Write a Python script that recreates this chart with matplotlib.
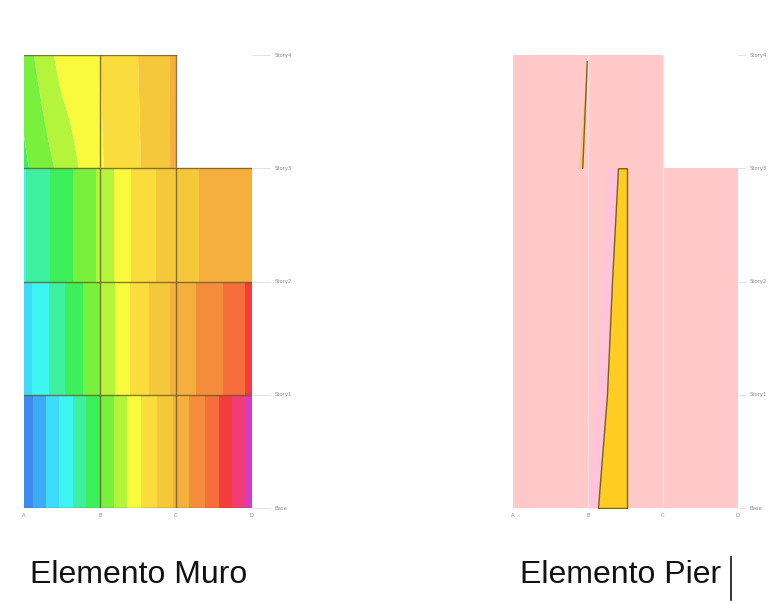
import numpy as np
import matplotlib
matplotlib.use("Agg")
import matplotlib.pyplot as plt
from matplotlib.colors import ListedColormap, BoundaryNorm
from matplotlib.lines import Line2D

# ---------------- data ----------------
x_nodes = [0.0, 0.5, 1.0, 1.5, 2.0, 2.5, 3.0]
x_nodes_top = [0.0, 0.5, 1.0, 1.5, 2.0]
story_labels = ["Base", "Story1", "Story2", "Story3", "Story4"]
grid_labels = ["A", "B", "C", "D"]

# contour values (level index) along the bottom and top edge of each story
muro_s1_bot = [0.3, 3.2, 6.0, 8.8, 11.2, 13.6, 16.5]
muro_s1_top = [0.3, 3.2, 6.0, 8.8, 11.2, 13.6, 16.5]
muro_s2_bot = [2.5, 4.8, 7.0, 9.5, 11.3, 12.6, 14.3]
muro_s2_top = [2.5, 4.8, 7.0, 9.5, 11.3, 12.6, 14.3]
muro_s3_bot = [3.9, 5.5, 7.2, 9.4, 10.7, 11.2, 11.6]
muro_s3_top = [3.9, 5.5, 7.2, 9.4, 10.7, 11.2, 11.6]
muro_s4_bot = [5.8, 7.3, 8.9, 9.9, 11.2]
muro_s4_top = [6.5, 8.4, 9.0, 10.0, 11.2]

level_colors = ['#3C8CF0', '#3CAAF5', '#3CDCFA', '#3CF5F0', '#3CF0A0', '#3CF05A',
                '#78F03C', '#B4F53C', '#FAFA3C', '#FADC3C', '#F5C83C', '#F5AF3C',
                '#F58C3C', '#F56E3C', '#F53C3C', '#F03C78', '#D23CC8']

# Pier: yellow band edges at story levels 0..3
pier_levels = [0, 1, 2, 3]
pier_band_left = [1.133, 1.253, 1.32, 1.40]
pier_band_right = [1.52, 1.52, 1.52, 1.52]
# thin wedge in story 4
pier_w_y = [3.0, 3.94]
pier_w_left = [0.87, 0.99]
pier_w_right = [0.93, 0.99]

titles = ["Elemento Muro", "Elemento Pier"]

# ---------------- figure ----------------
W, H = 776, 603
fig = plt.figure(figsize=(W / 100, H / 100), dpi=100)
fig.patch.set_facecolor('white')

def px_axes(x0, x1, y0, y1):
    return fig.add_axes([x0 / W, 1 - y1 / H, (x1 - x0) / W, (y1 - y0) / H])

axL = px_axes(24, 252, 55, 508)
axR = px_axes(513, 738, 55, 508)

cmap = ListedColormap(level_colors)
levels = np.arange(0, len(level_colors) + 1)
norm = BoundaryNorm(levels, cmap.N)

stories = [
    (x_nodes, muro_s1_bot, muro_s1_top, 0),
    (x_nodes, muro_s2_bot, muro_s2_top, 1),
    (x_nodes, muro_s3_bot, muro_s3_top, 2),
    (x_nodes_top, muro_s4_bot, muro_s4_top, 3),
]
for xn, vb, vt, s in stories:
    xs = np.linspace(xn[0], xn[-1], 301)
    zb = np.interp(xs, xn, vb)
    zt = np.interp(xs, xn, vt)
    X, Y = np.meshgrid(xs, [s, s + 1])
    Z = np.vstack([zb, zt])
    Z = np.clip(Z, 0.001, len(level_colors) - 0.001)
    axL.contourf(X, Y, Z, levels=levels, cmap=cmap, norm=norm, antialiased=True)

gc = '#6b5a28'
for s in range(5):
    xmax = 2 if s == 4 else 3
    axL.plot([0, xmax], [s, s], color=gc, lw=1.0, alpha=0.8)
for xv in [1, 2]:
    axL.plot([xv, xv], [0, 4], color=gc, lw=1.0, alpha=0.8)

# Pier panel
pink = '#FFC9C9'
axR.fill_between([0, 3], 0, 3, color=pink, lw=0)
axR.fill_between([0, 2], 3, 4, color=pink, lw=0)
axR.fill_betweenx(pier_levels, [l - 0.14 for l in pier_band_left], pier_band_left,
                  color='#FFC4DA', lw=0)
axR.fill_betweenx(pier_levels, pier_band_left, pier_band_right, color='#FFCC22',
                  edgecolor='#7A6410', lw=1.0)
axR.fill_betweenx(pier_w_y, pier_w_left, pier_w_right, color='#F8C878', lw=0)
axR.plot(pier_w_right, pier_w_y, color='#7A6410', lw=1.0)
for xv in [1, 2]:
    axR.plot([xv, xv], [0, 4], color='#FFE0E0', lw=0.8)

for ax, lx in ((axL, 1.1), (axR, 1.05)):
    ax.set_xlim(0, 3)
    ax.set_ylim(0, 4)
    ax.axis('off')
    for s, lab in enumerate(story_labels):
        ax.text(lx, s / 4, lab, transform=ax.transAxes, fontsize=3.8,
                color='#888888', va='center', ha='left')
        ax.plot([1.0, lx - 0.02], [s / 4, s / 4], transform=ax.transAxes,
                color='#dddddd', lw=0.6, clip_on=False)
    for i, lab in enumerate(grid_labels):
        ax.text(i / 3, -0.012, lab, transform=ax.transAxes, fontsize=3.8,
                color='#888888', va='top', ha='center')

fig.text(30 / W, 1 - 575 / H, titles[0], fontsize=23, family='Liberation Sans',
         va='center', ha='left', color='#111111')
fig.text(520 / W, 1 - 575 / H, titles[1], fontsize=23, family='Liberation Sans',
         va='center', ha='left', color='#111111')
fig.add_artist(Line2D([731 / W, 731 / W], [1 - 600 / H, 1 - 557 / H],
                      transform=fig.transFigure, color='#111111', lw=1.2))

fig.savefig('out.png', dpi=100, facecolor='white')
